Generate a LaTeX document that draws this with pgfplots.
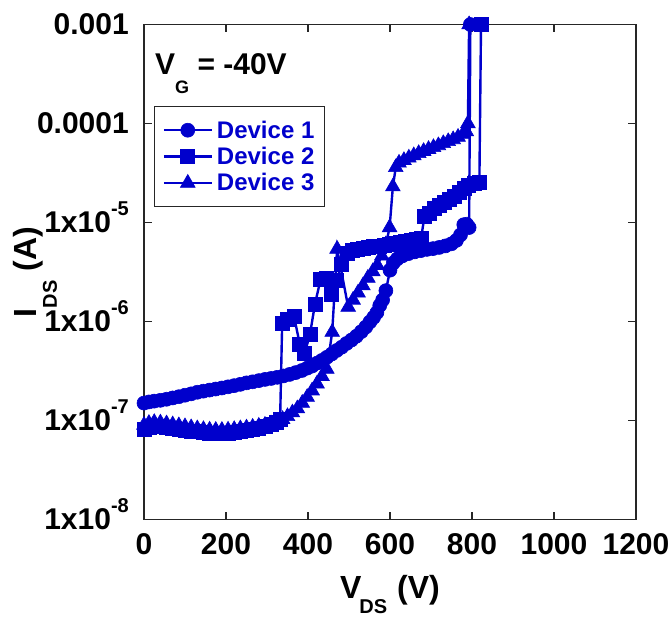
\documentclass[border=0pt]{standalone}
\usepackage{fontspec}
\setmainfont{Liberation Sans}
\usepackage{pgfplots}
\pgfplotsset{compat=1.18}
\definecolor{dblue}{RGB}{0,0,204}
\newcommand{\sups}[1]{\smash{\raisebox{17pt}{\fontsize{20}{20}\selectfont #1}}}
\begin{document}
\begin{tikzpicture}
\path (-144pt,-96.5pt) rectangle (528pt,519.5pt);
\begin{axis}[
 at={(0pt,0pt)}, anchor=south west,
 width=492pt, height=495pt, scale only axis,
 xmin=0, xmax=1200, ymin=1e-8, ymax=1e-3,
 ymode=log,
 xtick={0,200,400,600,800,1000,1200},
 xticklabels={0,200,400,600,800,1000,1200},
 ytick={1e-8,1e-7,1e-6,1e-5,1e-4,1e-3},
 yticklabels={1x10\sups{-8},1x10\sups{-7},1x10\sups{-6},1x10\sups{-5},0.0001,0.001},
 yminorticks=false, xminorticks=false,
 tick align=inside, major tick length=8pt,
 tick style={line width=1.2pt, color=black!85},
 axis line style={line width=1.2pt, color=black!85},
 tick label style={font=\fontsize{30}{30}\selectfont\bfseries, inner sep=0pt},
 yticklabel style={anchor=east, xshift=-15pt},
 xticklabel style={anchor=north, yshift=-14pt},
 clip=false,
 legend cell align=left,
 legend style={at={(rel axis cs:0.0203,0.835)}, anchor=north west,
   draw=black!85, line width=1.2pt, text=dblue,
   font=\fontsize{24}{24}\selectfont\bfseries,
   inner xsep=8pt, inner ysep=12pt, row sep=3.5pt, column sep=2pt,
   nodes={inner sep=2pt}},
 legend image code/.code={\draw[mark repeat=2,mark phase=2] plot coordinates {(0pt,0pt) (24pt,0pt) (48pt,0pt)};},
]
\addplot[dblue, line width=2.4pt, mark=*, mark size=7pt, mark options={fill=dblue, line width=0.6pt}] coordinates {
(0,1.5e-7)(12,1.54e-7)(25,1.57e-7)(40,1.6e-7)(55,1.64e-7)(70,1.69e-7)(85,1.74e-7)(100,1.8e-7)(115,1.86e-7)(130,1.93e-7)(145,1.98e-7)(160,2.03e-7)(175,2.08e-7)(190,2.13e-7)(205,2.19e-7)(220,2.25e-7)(235,2.32e-7)(250,2.4e-7)(265,2.46e-7)(280,2.53e-7)(295,2.6e-7)(310,2.66e-7)(325,2.73e-7)(340,2.82e-7)(355,2.92e-7)(370,3.05e-7)(385,3.2e-7)(398,3.38e-7)(410,3.55e-7)(422,3.8e-7)(434,4.05e-7)(446,4.35e-7)(458,4.7e-7)(470,5.1e-7)(482,5.5e-7)(494,6.0e-7)(506,6.5e-7)(518,7.1e-7)(530,7.9e-7)(541,8.8e-7)(551,9.9e-7)(560,1.1e-6)(568,1.23e-6)(575,1.45e-6)(582,1.65e-6)(590,2.05e-6)(600,3.3e-6)(608,3.9e-6)(618,4.3e-6)(630,4.6e-6)(645,4.85e-6)(660,5.05e-6)(675,5.2e-6)(690,5.35e-6)(705,5.45e-6)(720,5.6e-6)(735,5.8e-6)(750,6.1e-6)(762,6.6e-6)(772,7.5e-6)(780,9.5e-6)(787,9.6e-6)(793,8.9e-6)(796,1e-3)
};
\addlegendentry{Device 1}
\addplot[dblue, line width=2.4pt, mark=square*, mark size=7pt, mark options={fill=dblue, line width=0.6pt}] coordinates {
(0,8.2e-8)(12,8.5e-8)(25,8.7e-8)(40,8.7e-8)(55,8.6e-8)(70,8.4e-8)(85,8.2e-8)(100,8.0e-8)(115,7.8e-8)(130,7.7e-8)(145,7.6e-8)(160,7.5e-8)(175,7.45e-8)(190,7.45e-8)(205,7.5e-8)(220,7.6e-8)(235,7.75e-8)(250,7.9e-8)(265,8.1e-8)(280,8.35e-8)(295,8.7e-8)(310,9.1e-8)(322,9.6e-8)(332,1.03e-7)(337,9.6e-7)(350,1.05e-6)(366,1.12e-6)(380,5.9e-7)(392,4.8e-7)(405,7.5e-7)(417,1.5e-6)(431,2.7e-6)(445,2.75e-6)(458,1.9e-6)(470,2.6e-6)(482,3.8e-6)(495,4.9e-6)(508,5.2e-6)(521,5.35e-6)(534,5.5e-6)(547,5.6e-6)(560,5.7e-6)(573,5.8e-6)(586,5.9e-6)(599,6.0e-6)(612,6.15e-6)(625,6.3e-6)(638,6.45e-6)(651,6.6e-6)(664,6.8e-6)(676,7.0e-6)(684,1.15e-5)(696,1.25e-5)(708,1.38e-5)(720,1.5e-5)(732,1.6e-5)(744,1.72e-5)(756,1.85e-5)(768,2.0e-5)(780,2.2e-5)(792,2.4e-5)(805,2.5e-5)(818,2.55e-5)(822,1e-3)
};
\addlegendentry{Device 2}
\addplot[dblue, line width=2.4pt, mark=triangle*, mark size=8.5pt, mark options={fill=dblue, line width=0.6pt}] coordinates {
(0,9.0e-8)(12,9.4e-8)(25,9.6e-8)(40,9.5e-8)(55,9.3e-8)(70,9.1e-8)(85,8.9e-8)(100,8.7e-8)(115,8.5e-8)(130,8.3e-8)(145,8.15e-8)(160,8.05e-8)(175,8.0e-8)(190,8.0e-8)(205,8.05e-8)(220,8.15e-8)(235,8.3e-8)(250,8.45e-8)(265,8.6e-8)(280,8.8e-8)(295,9.0e-8)(310,9.3e-8)(325,9.7e-8)(338,1.03e-7)(350,1.1e-7)(362,1.2e-7)(374,1.32e-7)(386,1.5e-7)(398,1.72e-7)(410,2.0e-7)(422,2.35e-7)(434,2.8e-7)(446,3.3e-7)(459,7.8e-7)(471,5.4e-6)(498,1.4e-6)(510,1.65e-6)(522,1.95e-6)(534,2.3e-6)(546,2.75e-6)(558,3.2e-6)(569,3.7e-6)(580,4.6e-6)(590,6.0e-6)(599,8.9e-6)(607,2.3e-5)(614,3.6e-5)(622,4.0e-5)(634,4.25e-5)(646,4.5e-5)(658,4.75e-5)(670,5.0e-5)(682,5.25e-5)(694,5.5e-5)(706,5.75e-5)(718,6.0e-5)(730,6.3e-5)(742,6.6e-5)(754,6.9e-5)(766,7.3e-5)(778,7.8e-5)(786,8.3e-5)(790,1.0e-4)(793,1e-3)
};
\addlegendentry{Device 3}
\node[anchor=base west, inner sep=0pt, font=\fontsize{30}{30}\selectfont\bfseries] at (rel axis cs:0.0224,0.9) {V\raisebox{-19pt}{\fontsize{18}{18}\selectfont G} = -40V};
\node[anchor=base, inner sep=0pt, font=\fontsize{32}{32}\selectfont\bfseries] at ([yshift=-78.5pt]rel axis cs:0.5,0) {V\kern-2pt\raisebox{-15pt}{\fontsize{20}{20}\selectfont DS}\hspace{10pt}(V)};
\node[anchor=base, rotate=90, inner sep=0pt, font=\fontsize{32}{32}\selectfont\bfseries] at ([xshift=-107pt]rel axis cs:0,0.5) {I\raisebox{-20pt}{\fontsize{20}{20}\selectfont DS}\hspace{9pt}(A)};
\end{axis}
\end{tikzpicture}
\end{document}
